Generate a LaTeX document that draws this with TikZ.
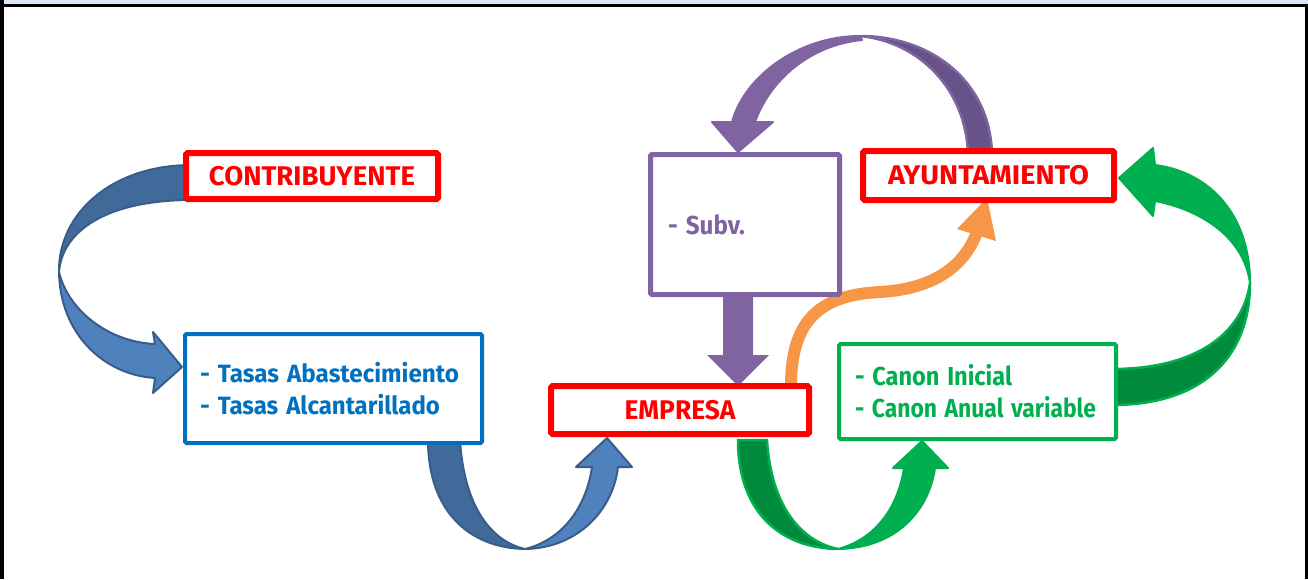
\documentclass[tikz,border=0pt]{standalone}
\usepackage{fontspec}
\setmainfont{Fira Sans}
\usepackage{graphicx}
\newcommand\fitw[2]{\resizebox{#1}{\height}{#2}}
\definecolor{rojo}{HTML}{FF0000}
\definecolor{azul}{HTML}{0070C0}
\definecolor{morado}{HTML}{8064A2}
\definecolor{moradoosc}{HTML}{67538A}
\definecolor{verde}{HTML}{00B050}
\definecolor{verdeosc}{HTML}{008A3C}
\definecolor{blueL}{HTML}{4F81BD}
\definecolor{blueD}{HTML}{41699A}
\definecolor{blueO}{HTML}{385D8A}
\definecolor{naranja}{HTML}{F79646}
\definecolor{topband}{HTML}{DCE6F2}
\tikzset{
  redbox/.style={draw=rojo,line width=6pt,rounded corners=1.5pt,fill=white,inner sep=0pt,outer sep=0pt,
    text=rojo,font=\bfseries\fontsize{27}{30}\selectfont},
  listbox/.style={line width=4pt,rounded corners=1.5pt,fill=white,outer sep=0pt,inner ysep=0pt,align=left},
  bluearrowL/.style={fill=blueL,draw=blueO,line width=2pt,line join=round},
  bluearrowD/.style={fill=blueD,draw=blueO,line width=2pt,line join=round},
  greenarrowL/.style={fill=verde,draw=verde,line width=2pt,line join=round},
  greenarrowD/.style={fill=verdeosc,draw=verde,line width=2.5pt,line join=round},
  purparrowL/.style={fill=morado,draw=morado,line width=2pt,line join=round},
  purparrowD/.style={fill=moradoosc,draw=morado,line width=2.5pt,line join=round},
}
\begin{document}
\begin{tikzpicture}[x=1pt,y=-1pt]
\useasboundingbox (0,0) rectangle (1308,579);
% frame
\fill[topband] (0,0) rectangle (1308,4);
\fill[black] (0,4) rectangle (1308,7);
\fill[black] (0,0) rectangle (4,579);
\fill[black] (1305,4) rectangle (1308,579);

% ---- blue curved arrow (contribuyente -> tasas)
\path[bluearrowD] (192,165) .. controls (110,165) and (58,215) .. (59,272)
   .. controls (62,232) and (105,200) .. (192,200) -- cycle;
\path[bluearrowL] (59,272) .. controls (60,335) and (105,375) .. (155,378)
   -- (153,393) -- (182,367) -- (153,332) -- (155,344)
   .. controls (108,342) and (68,310) .. (59,272) -- cycle;

% ---- blue U arrow (tasas -> empresa)
\path[bluearrowD] (428,440) .. controls (428,512) and (470,548) .. (525,549)
   .. controls (490,541) and (464,505) .. (460,440) -- cycle;
\path[bluearrowL] (525,549) .. controls (578,548) and (613,510) .. (618,467)
   -- (632,467) -- (607,438) -- (576,467) -- (592,467)
   .. controls (586,508) and (562,540) .. (525,549) -- cycle;

% ---- green U arrow (empresa -> canon)
\path[greenarrowD] (738,440) .. controls (738,512) and (780,548) .. (838,549)
   .. controls (800,541) and (771,505) .. (767,440) -- cycle;
\path[greenarrowL] (838,549) .. controls (897,548) and (929,510) .. (935,468)
   -- (948,468) -- (922,441) -- (893,468) -- (904,468)
   .. controls (897,512) and (872,540) .. (838,549) -- cycle;

% ---- green right arrow (canon -> ayuntamiento)
\path[greenarrowD] (1112,405) .. controls (1205,405) and (1250,355) .. (1250,283)
   .. controls (1243,332) and (1198,369) .. (1112,369) -- cycle;
\path[greenarrowL] (1250,283) .. controls (1250,215) and (1210,172) .. (1155,165)
   -- (1153,148) -- (1119,178) -- (1153,216) -- (1155,201)
   .. controls (1202,210) and (1244,238) .. (1250,283) -- cycle;

% ---- purple arc arrow (ayuntamiento -> subv)
\path[purparrowD] (992,154) .. controls (990,80) and (930,36) .. (860,36)
   .. controls (920,42) and (966,90) .. (968,154) -- cycle;
\path[purparrowL] (860,36) .. controls (800,36) and (745,75) .. (732,122)
   -- (712,122) -- (738,152) -- (773,122) -- (755,122)
   .. controls (770,80) and (810,45) .. (862,40) -- cycle;

% ---- purple straight arrow (subv -> empresa)
\fill[morado] (723,290) -- (753,290) -- (753,355) -- (769,355) -- (738,386)
   -- (707,355) -- (723,355) -- cycle;

% ---- orange arrow (empresa -> ayuntamiento)
\draw[naranja,line width=12pt] (791,386) .. controls (791,320) and (820,295) .. (880,292)
   .. controls (935,289) and (965,265) .. (977,232);
\fill[naranja] (957,229) -- (987,198) -- (996,241) -- cycle;

% ---- boxes
\node[redbox,minimum width=252pt,minimum height=46pt] (contrib) at (312,176)
  {\fitw{206pt}{CONTRIBUYENTE}};
\node[redbox,minimum width=258pt,minimum height=48pt] (empresa) at (680,410)
  {\fitw{111pt}{EMPRESA}};
\node[redbox,minimum width=251pt,minimum height=49pt] (ayto) at (988.5,175.5)
  {\fitw{201pt}{AYUNTAMIENTO}};

\node[listbox,draw=azul,text=azul,minimum height=109pt,inner xsep=15pt,text width=267pt,
  font=\bfseries\fontsize{25}{32}\selectfont] (tasas) at (333.5,388.5)
  {\fitw{259pt}{- Tasas Abastecimiento}\\\fitw{240pt}{- Tasas Alcantarillado}};

\node[listbox,draw=morado,line width=5pt,text=morado,minimum height=140pt,inner xsep=17.5pt,text width=154pt,
  font=\bfseries\fontsize{26}{30}\selectfont] (subv) at (745,224.5)
  {\fitw{77pt}{- Subv.}};

\node[listbox,draw=verde,text=verde,minimum height=95pt,inner xsep=16pt,text width=245pt,
  font=\bfseries\fontsize{26}{32}\selectfont] (canon) at (977.5,391.5)
  {\fitw{157pt}{- Canon Inicial}\\\fitw{241pt}{- Canon Anual variable}};
\end{tikzpicture}
\end{document}
